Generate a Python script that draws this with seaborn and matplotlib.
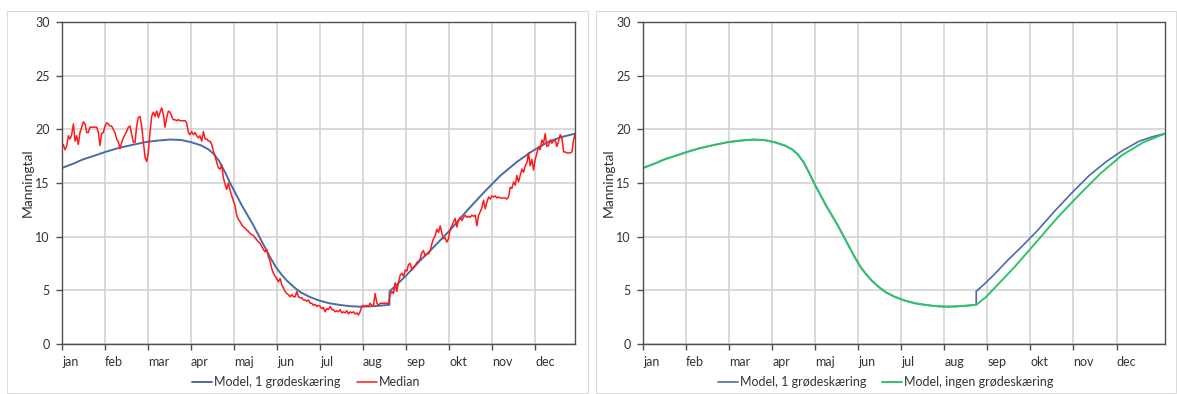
import numpy as np
import pandas as pd
import seaborn as sns
import matplotlib.pyplot as plt
import matplotlib.transforms as mtransforms
from matplotlib.patches import Rectangle

sns.set_theme(style="white")
plt.rcParams['font.family'] = ['Lato', 'DejaVu Sans']

# ---------------- data ----------------
months = ["jan", "feb", "mar", "apr", "maj", "jun", "jul", "aug", "sep", "okt", "nov", "dec"]
y_ticks = [0, 5, 10, 15, 20, 25, 30]

# Model, 1 grødeskæring (day of year, Manning value)
model1_day = [0, 8, 15, 22, 31, 40, 50, 59, 68, 77, 85, 92, 99, 104, 108, 112, 116, 120, 124,
              128, 132, 136, 140, 144, 148, 152, 156, 160, 165, 170, 176, 183, 190, 197, 205,
              212, 219, 226, 233, 233, 238, 245, 255, 265, 276, 288, 300, 312, 324, 335, 347,
              356, 365]
model1_val = [16.4, 16.8, 17.2, 17.5, 17.9, 18.25, 18.55, 18.8, 18.95, 19.05, 19.0, 18.8, 18.5,
              18.15, 17.7, 17.0, 16.0, 14.9, 13.9, 12.9, 12.0, 11.1, 10.1, 9.1, 8.1, 7.2, 6.5,
              5.9, 5.3, 4.8, 4.4, 4.05, 3.8, 3.65, 3.52, 3.48, 3.5, 3.57, 3.65, 4.9, 5.5, 6.4,
              7.8, 9.1, 10.6, 12.4, 14.1, 15.7, 17.0, 18.0, 18.9, 19.3, 19.6]

# Model, ingen grødeskæring
model0_day = [0, 8, 15, 22, 31, 40, 50, 59, 68, 77, 85, 92, 99, 104, 108, 112, 116, 120, 124,
              128, 132, 136, 140, 144, 148, 152, 156, 160, 165, 170, 176, 183, 190, 197, 205,
              212, 219, 226, 233, 240, 250, 260, 275, 290, 305, 320, 335, 350, 365]
model0_val = [16.4, 16.8, 17.2, 17.5, 17.9, 18.25, 18.55, 18.8, 18.95, 19.05, 19.0, 18.8, 18.5,
              18.15, 17.7, 17.0, 16.0, 14.9, 13.9, 12.9, 12.0, 11.1, 10.1, 9.1, 8.1, 7.2, 6.5,
              5.9, 5.3, 4.8, 4.4, 4.05, 3.8, 3.65, 3.52, 3.48, 3.5, 3.57, 3.65, 4.4, 5.8, 7.2,
              9.5, 11.8, 13.9, 15.9, 17.6, 18.8, 19.6]

# Median
median_day_winter = [0.0, 0.9, 2.1, 3.3, 4.5, 5.7, 6.9, 8.1, 9.3, 10.4, 11.6,
                     12.8, 14.0, 15.2, 16.4, 17.6, 18.7, 19.9, 21.1, 22.3, 23.5,
                     24.7, 25.9, 27.0, 28.2, 29.4, 30.6, 31.8, 33.0, 34.2, 35.3,
                     36.5, 37.7, 38.9, 40.1, 41.3, 42.5, 43.7, 44.8, 46.0, 47.2,
                     48.4, 49.6, 50.8, 52.0, 53.1, 54.3, 55.5, 56.7, 57.9, 59.1,
                     60.3, 61.4, 62.6, 63.8, 65.0, 66.2, 67.4, 68.6, 69.8, 70.9,
                     72.1, 73.3, 74.5, 75.7, 76.9, 78.1, 79.2, 80.4, 81.6, 82.8,
                     84.0, 85.2, 86.4, 87.6, 88.7, 89.9, 91.1, 92.3, 93.5, 94.7,
                     95.9, 97.0, 98.2, 99.4, 100.6, 101.8, 103.0, 104.2, 105.3, 106.5,
                     107.7, 108.9, 110.1, 111.3, 112.5, 113.6, 114.8, 116.0, 117.2, 118.4,
                     119.6, 120.8, 122.0, 123.1]
median_val_winter = [18.5, 18.6, 18.1, 18.4, 19.4, 19.1, 19.5, 20.5, 18.9, 19.4, 18.6,
                     19.7, 20.2, 20.7, 20.5, 19.7, 19.7, 20.2, 20.2, 20.2, 20.2,
                     20.2, 19.7, 18.5, 19.6, 19.7, 20.3, 20.6, 20.5, 20.3, 20.3,
                     20.0, 19.7, 19.1, 18.8, 18.2, 18.8, 19.2, 19.5, 19.8, 20.2,
                     20.3, 19.5, 18.8, 18.8, 20.3, 21.1, 21.2, 20.3, 18.8, 17.4,
                     17.0, 17.8, 19.7, 21.2, 21.6, 21.2, 21.7, 21.1, 21.6, 22.0,
                     21.4, 20.2, 21.1, 21.7, 21.6, 21.2, 20.9, 20.9, 20.8, 20.9,
                     20.8, 20.8, 20.8, 20.8, 20.6, 19.7, 19.5, 19.8, 19.5, 19.7,
                     19.4, 19.2, 19.4, 18.9, 19.8, 19.1, 19.1, 18.9, 18.9, 18.6,
                     18.0, 17.5, 16.9, 16.4, 16.3, 16.7, 15.5, 14.9, 14.4, 15.0,
                     14.3, 13.8, 13.3, 12.9]

median_day_summer = [124.3, 125.5, 126.7, 127.9, 129.1, 130.3, 131.5, 132.6, 133.8, 135.0,
                     136.2, 137.4, 138.6, 139.8, 140.9, 142.1, 143.3, 144.5, 145.7, 146.9,
                     148.1, 149.3, 150.4, 151.6, 152.8, 154.0, 155.2, 156.4, 157.6, 158.7,
                     159.9, 161.1, 162.3, 163.5, 164.7, 165.9, 167.1, 168.2, 169.4, 170.6,
                     171.8, 173.0, 174.2, 175.4, 176.5, 177.7, 178.9, 180.1, 181.3, 182.5,
                     183.7, 184.8, 186.0, 187.2, 188.4, 189.6, 190.8, 192.0, 193.1, 194.3,
                     195.5, 196.7, 197.9, 199.1, 200.3, 201.5, 202.6, 203.8, 205.0, 206.2,
                     207.4, 208.6, 209.8, 210.9, 212.1, 213.3, 214.5, 215.7, 216.9, 218.1,
                     219.2, 220.4, 221.6, 222.8, 224.0, 225.2, 226.4, 227.5, 228.7, 229.9,
                     231.1, 232.3, 233.5, 234.7, 235.9, 237.0, 238.2, 239.4, 240.6, 241.8,
                     243.0, 244.2, 245.4, 246.5, 247.7]
median_val_summer = [12.0, 11.6, 11.4, 11.1, 10.9, 10.8, 10.6, 10.5, 10.3, 10.2,
                     10.1, 9.9, 9.7, 9.5, 9.4, 9.1, 8.8, 8.6, 8.8, 8.1,
                     7.7, 7.0, 6.6, 6.3, 6.1, 5.8, 6.1, 5.5, 5.2, 4.9,
                     4.7, 4.6, 4.4, 4.6, 4.4, 4.4, 4.9, 4.4, 4.3, 4.3,
                     4.1, 4.1, 4.0, 4.1, 3.8, 3.8, 3.6, 3.7, 3.5, 3.6,
                     3.5, 3.3, 3.4, 3.0, 3.3, 3.2, 3.5, 3.2, 3.2, 3.0,
                     3.1, 3.0, 3.2, 2.9, 3.0, 2.9, 3.1, 2.8, 3.0, 2.9,
                     3.0, 2.8, 2.9, 2.7, 3.0, 3.5, 3.6, 3.5, 3.6, 3.5,
                     3.8, 3.6, 3.6, 4.7, 3.8, 3.6, 3.8, 3.8, 3.8, 3.8,
                     3.8, 3.8, 4.6, 4.9, 4.7, 5.7, 4.9, 5.7, 6.4, 6.6,
                     6.3, 6.9, 6.8, 7.4, 7.5]

median_day_autumn = [248.9, 250.1, 251.3, 252.5, 253.6, 254.8, 256.0, 257.2, 258.4, 259.6,
                     260.8, 262.0, 263.1, 264.3, 265.5, 266.7, 267.9, 269.1, 270.3, 271.4,
                     272.6, 273.8, 275.0, 276.2, 277.4, 278.6, 279.7, 280.9, 282.1, 283.3,
                     284.5, 285.7, 286.9, 288.1, 289.2, 290.4, 291.6, 292.8, 294.0, 295.2,
                     296.4, 297.5, 298.7, 299.9, 301.1, 302.3, 303.5, 304.7, 305.8, 307.0,
                     308.2, 309.4, 310.6, 311.8, 313.0, 314.1, 315.3, 316.5, 317.7, 318.9,
                     320.1, 321.3, 322.5, 323.6, 324.8, 326.0, 327.2, 328.4, 329.6, 330.8,
                     331.9, 333.1, 334.3, 335.5, 336.7, 337.9, 339.1, 340.2, 341.4, 342.6,
                     343.8, 345.0, 346.2, 347.4, 348.5, 349.7, 350.9, 352.1, 353.3, 354.5,
                     355.7, 356.9, 358.0, 359.2, 360.4, 361.6, 362.8, 364.0, 365.0]
median_val_autumn = [6.9, 7.1, 7.3, 7.6, 7.7, 7.9, 8.5, 8.7, 8.2, 8.4,
                     8.4, 8.7, 9.3, 9.8, 10.1, 10.7, 10.4, 11.0, 10.3, 9.8,
                     9.9, 9.5, 9.8, 10.7, 11.0, 11.4, 11.7, 10.9, 11.5, 11.8,
                     11.5, 11.8, 12.0, 11.8, 11.9, 11.8, 12.0, 11.9, 12.0, 11.0,
                     12.0, 12.3, 12.7, 13.4, 12.6, 13.2, 13.7, 13.5, 13.8, 13.7,
                     13.8, 13.6, 13.7, 13.6, 13.6, 13.6, 13.6, 13.5, 13.7, 14.6,
                     14.5, 15.1, 14.8, 15.7, 15.1, 15.7, 16.3, 16.0, 16.6, 16.9,
                     17.8, 16.6, 17.2, 16.2, 17.2, 17.8, 18.4, 18.1, 19.0, 18.7,
                     19.6, 18.4, 18.5, 19.0, 18.7, 18.9, 19.0, 18.4, 18.9, 19.5,
                     19.2, 17.9, 17.9, 17.8, 17.8, 17.8, 17.9, 19.0, 19.6]

# ---------------- frames ----------------
df_model1 = pd.DataFrame({"day": model1_day, "value": model1_val})
df_model0 = pd.DataFrame({"day": model0_day, "value": model0_val})
df_median = pd.DataFrame({
    "day": median_day_winter + median_day_summer + median_day_autumn,
    "value": median_val_winter + median_val_summer + median_val_autumn,
})

BLUE = "#4a6ca6"
RED = "#ff1a1a"
GREEN = "#2fc46a"
GRID = "#d0d0d0"
SPINE = "#505050"
TXT = "#333333"

W, H = 1177, 394
fig = plt.figure(figsize=(W / 100, H / 100), dpi=100)
fig.patch.set_facecolor("white")

# chart-area borders (Excel style)
for (x0, x1) in [(7, 588), (596, 1176)]:
    fig.patches.append(Rectangle((x0 / W, 1 - 393 / H), (x1 - x0) / W, (393 - 11) / H,
                                 transform=fig.transFigure, fill=False,
                                 edgecolor="#dcdcdc", lw=0.8))

panels = [
    # axes, left px, width px, month spacing (days), legend x, ylabel x (px)
    (fig.add_axes([62 / W, 50 / H, 513 / W, 322 / H]), 62, 513, 30.6, 0.476, 34),
    (fig.add_axes([643 / W, 50 / H, 522 / W, 322 / H]), 643, 522, 30.1, 0.465, 615),
]
ax1, ax2 = panels[0][0], panels[1][0]

sns.lineplot(data=df_model1, x="day", y="value", ax=ax1, color=BLUE, lw=1.4,
             sort=False, estimator=None, label="Model, 1 grødeskæring")
sns.lineplot(data=df_median, x="day", y="value", ax=ax1, color=RED, lw=1.1,
             sort=False, estimator=None, label="Median")

sns.lineplot(data=df_model1, x="day", y="value", ax=ax2, color=BLUE, lw=1.2,
             sort=False, estimator=None, label="Model, 1 grødeskæring")
sns.lineplot(data=df_model0, x="day", y="value", ax=ax2, color=GREEN, lw=1.4,
             sort=False, estimator=None, label="Model, ingen grødeskæring")

for ax, left_px, width_px, spacing, lx, ylab_px in panels:
    ax.set_xlim(0, 365)
    ax.set_ylim(0, 30)
    ax.set_yticks(y_ticks)
    ax.set_yticklabels([str(v) for v in y_ticks])
    ax.set_xticks([i * spacing for i in range(12)])
    ax.set_xticklabels(months)
    offset = mtransforms.ScaledTranslation(3 / 100, 0, fig.dpi_scale_trans)
    for lab in ax.get_xticklabels():
        lab.set_horizontalalignment("left")
        lab.set_transform(lab.get_transform() + offset)
    ax.grid(True, color=GRID, lw=1.1)
    ax.set_axisbelow(True)
    for s in ax.spines.values():
        s.set_visible(True)
        s.set_color(SPINE)
        s.set_linewidth(1.0)
    ax.tick_params(axis="both", which="major", direction="out", length=4, width=1,
                   color=SPINE, labelsize=9, labelcolor=TXT, pad=5,
                   bottom=True, left=True)
    ax.set_xlabel("")
    ax.set_ylabel("Manningtal", fontsize=10, color=TXT)
    ax.yaxis.set_label_coords((ylab_px - left_px) / width_px, 0.5)
    ax.legend(loc="center", bbox_to_anchor=(lx, -0.118), ncol=2, frameon=False,
              handlelength=1.6, handletextpad=0.15, columnspacing=1.3, fontsize=9,
              labelcolor=TXT)

fig.savefig("out.png", dpi=100, facecolor="white")
